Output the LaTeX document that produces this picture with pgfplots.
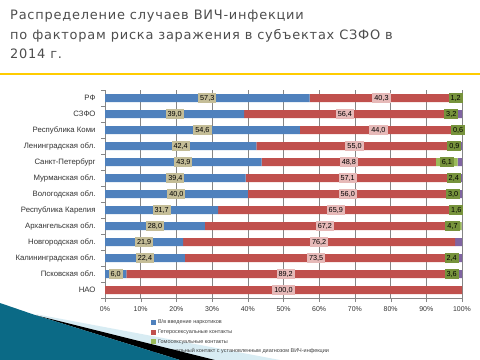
\documentclass[border=0pt]{standalone}
\usepackage{pgfplots}
\pgfplotsset{compat=1.18}
\usepackage{fontspec}
\setmainfont{Liberation Sans}
\newfontfamily\titlefont[LetterSpace=6]{DejaVu Sans}
\definecolor{cblue}{HTML}{4F81BD}
\definecolor{cred}{HTML}{C0504D}
\definecolor{cgreen}{HTML}{9BBB59}
\definecolor{cpurple}{HTML}{8064A2}
\definecolor{ctan}{HTML}{C4BD97}
\definecolor{cpink}{HTML}{E6B9B8}
\definecolor{colive}{HTML}{77933C}
\definecolor{titlegray}{HTML}{4D4D4D}
\definecolor{yline}{HTML}{FFCC00}
\definecolor{gridgray}{HTML}{868686}
\definecolor{lightband}{HTML}{D8ECF3}
\definecolor{tealA}{HTML}{0B6A86}
\definecolor{tealB}{HTML}{4DB3D3}
\begin{document}
\begin{tikzpicture}
\path[use as bounding box, fill=white] (0,0) rectangle (480bp,-360bp);
\fill[lightband] (35bp,-314bp) -- (280bp,-360bp) -- (180bp,-360bp) -- cycle;
\node[anchor=north west, align=left, font=\titlefont\fontsize{13}{19.5}\selectfont, text=titlegray, inner sep=0pt] at (10bp,-10bp)
  {Распределение случаев ВИЧ-инфекции\\по факторам риска заражения в субъектах СЗФО в\\2014 г.};
\draw[yline, line width=2bp] (0,-74bp) -- (480bp,-74bp);
\begin{axis}[
  at={(283.5bp,-194bp)}, anchor=center,
  scale only axis, width=357bp, height=208bp,
  xmin=0, xmax=100, ymin=-0.5, ymax=12.5, y dir=reverse,
  xbar stacked, bar width=8bp,
  axis lines*=left,
  axis line style={gridgray},
  xtick={0,10,...,100},
  xticklabels={0\%,10\%,20\%,30\%,40\%,50\%,60\%,70\%,80\%,90\%,100\%},
  xmajorgrids, grid style={gridgray, line width=0.6pt},
  ytick={0,...,12},
  yticklabels={РФ,СЗФО,Республика Коми,Ленинградская обл.,Санкт-Петербург,Мурманская обл.,Вологодская обл.,Республика Карелия,Архангельская обл.,Новгородская обл.,Калининградская обл.,Псковская обл.,НАО},
  minor ytick={-0.5,0.5,...,12.5},
  every major y tick/.append style={draw=none},
  every minor y tick/.append style={gridgray},
  every major x tick/.append style={gridgray},
  major tick length=4bp, minor tick length=4bp,
  tick align=outside, tick pos=left,
  ticklabel style={font=\fontsize{7}{8}\selectfont, text=black!80},
  yticklabel style={xshift=-2bp, font=\fontsize{7.8}{9}\selectfont},
  xticklabel style={yshift=-1bp},
  legend style={at={(0.128,-0.095)}, anchor=north west, draw=none, fill=none,
    font=\fontsize{5.5}{6}\selectfont, text=black!75, row sep=0.3bp, inner sep=0pt},
  legend cell align=left,
  legend image code/.code={\fill[#1] (0bp,-2.6bp) rectangle (5.2bp,2.6bp);},
]
\addplot[fill=cblue, draw=none] coordinates {(57.3,0) (39.0,1) (54.6,2) (42.4,3) (43.9,4) (39.4,5) (40.0,6) (31.7,7) (28.0,8) (21.9,9) (22.4,10) (6.0,11) (0,12)};
\addplot[fill=cred, draw=none] coordinates {(40.3,0) (56.4,1) (44.0,2) (55.0,3) (48.8,4) (57.1,5) (56.0,6) (65.9,7) (67.2,8) (76.2,9) (73.5,10) (89.2,11) (100.0,12)};
\addplot[fill=cgreen, draw=none] coordinates {(1.2,0) (3.2,1) (0.6,2) (0.9,3) (6.1,4) (2.4,5) (3.0,6) (1.6,7) (4.7,8) (0,9) (2.4,10) (3.6,11) (0,12)};
\addplot[fill=cpurple, draw=none] coordinates {(1.2,0) (1.4,1) (0.8,2) (1.7,3) (1.2,4) (1.1,5) (1.0,6) (0.8,7) (0.1,8) (1.9,9) (1.7,10) (1.2,11) (0,12)};
\legend{В/в введение наркотиков,Гетеросексуальные контакты,Гомосексуальные контакты,Вертикальный контакт с установленным диагнозом ВИЧ-инфекции}
\end{axis}
\begin{axis}[
  at={(283.5bp,-194bp)}, anchor=center,
  scale only axis, width=357bp, height=208bp,
  xmin=0, xmax=100, ymin=-0.5, ymax=12.5, y dir=reverse,
  hide axis, clip=false,
  nodes near coords, point meta=explicit symbolic,
  every node near coord/.append style={anchor=center, font=\fontsize{7.3}{8}\selectfont, text=black, inner xsep=2pt, inner ysep=1.8pt, minimum height=10.5bp},
]
\addplot[only marks, mark=none, every node near coord/.append style={fill=ctan}] coordinates {
(28.65,0) [57,3] (19.5,1) [39,0] (27.3,2) [54,6] (21.2,3) [42,4] (21.95,4) [43,9] (19.7,5) [39,4] (20.0,6) [40,0] (15.85,7) [31,7] (14.0,8) [28,0] (10.95,9) [21,9] (11.2,10) [22,4] (3.0,11) [6,0]};
\addplot[only marks, mark=none, every node near coord/.append style={fill=cpink}] coordinates {
(77.45,0) [40,3] (67.2,1) [56,4] (76.6,2) [44,0] (69.9,3) [55,0] (68.3,4) [48,8] (67.95,5) [57,1] (68.0,6) [56,0] (64.65,7) [65,9] (61.6,8) [67,2] (60.0,9) [76,2] (59.15,10) [73,5] (50.6,11) [89,2] (50.0,12) [100,0]};
\addplot[only marks, mark=none, every node near coord/.append style={fill=colive}] coordinates {
(98.2,0) [1,2] (97.0,1) [3,2] (98.9,2) [0,6] (97.85,3) [0,9] (95.75,4) [6,1] (97.7,5) [2,4] (97.5,6) [3,0] (98.4,7) [1,6] (97.35,8) [4,7] (97.1,10) [2,4] (97.1,11) [3,6]};
\end{axis}
% slide decoration
\fill[black] (35bp,-315bp) -- (215bp,-360bp) -- (180bp,-360bp) -- cycle;
\shade[left color=tealA, middle color=tealB, right color=tealA] (0,-303bp) -- (35bp,-315bp) -- (180bp,-360bp) -- (0,-360bp) -- cycle;
\end{tikzpicture}
\end{document}
